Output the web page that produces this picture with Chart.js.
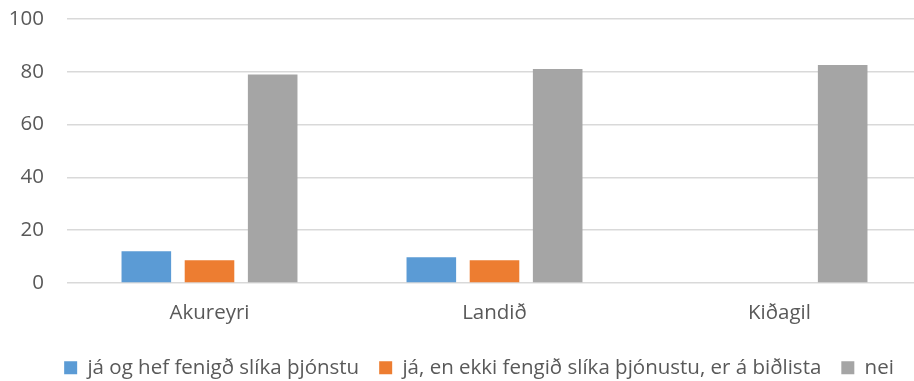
<!DOCTYPE html>
<html>
<head>
<meta charset="utf-8">
<script src="https://cdn.jsdelivr.net/npm/chart.js@4/dist/chart.umd.min.js"></script>
<style>
  html, body { margin: 0; padding: 0; background: #fff; overflow: hidden; }
  #wrap { width: 950px; height: 388px; }
</style>
</head>
<body>
<div id="wrap"><canvas id="svarChart" width="950" height="388"></canvas></div>
<script>
const stadir = ['Akureyri', 'Landið', 'Kiðagil'];
const jaFengid = [12, 9.8, 0];
const jaBidlisti = [8.6, 8.6, 0];
const nei = [79, 81.1, 82.6];
const yTicks = [0, 20, 40, 60, 80, 100];

const textColor = '#595959';
const gridColor = '#d9d9d9';
const clear = 'rgba(0,0,0,0)';
const font = { family: '"Open Sans", sans-serif', size: 20.5 };

const data = {
  labels: stadir,
  datasets: [
    { label: 'já og hef fenigð slíka þjónstu', data: jaFengid, backgroundColor: '#5b9bd5' },
    { label: 'já, en ekki fengið slíka þjónustu, er á biðlista', data: jaBidlisti, backgroundColor: '#ed7d31' },
    { label: 'nei', data: nei, backgroundColor: '#a5a5a5' }
  ]
};

const config = {
  type: 'bar',
  data: data,
  options: {
    responsive: false,
    animation: false,
    layout: { padding: { left: 8, top: 19, right: 0, bottom: 0 } },
    datasets: {
      bar: { categoryPercentage: 0.665, barPercentage: 0.785 }
    },
    scales: {
      x: {
        // invisible tick marks give the gap above the labels without padding the sides
        grid: { drawOnChartArea: false, color: clear, tickColor: clear, tickLength: 17.7 },
        border: { display: false },
        ticks: { color: textColor, font: font, padding: 0 },
        afterFit: (scale) => { scale.height = 54.5; }
      },
      y: {
        min: 0,
        max: 100,
        afterBuildTicks: (scale) => { scale.ticks = yTicks.map(v => ({ value: v })); },
        grid: { color: gridColor, lineWidth: 1.5, tickColor: clear, tickLength: 23 },
        border: { display: false },
        ticks: { color: textColor, font: font, padding: 0 },
        afterFit: (scale) => { scale.width = 59; }
      },
      // keeps the plot running past the right edge while the legend stays centred
      spare: {
        position: 'right',
        grid: { display: false },
        border: { display: false },
        ticks: { display: false },
        afterFit: (scale) => { scale.width = 28; }
      }
    },
    plugins: {
      legend: {
        position: 'bottom',
        labels: {
          color: textColor,
          font: font,
          boxWidth: 13,
          boxHeight: 13,
          padding: 20
        }
      },
      tooltip: { enabled: false }
    }
  }
};

new Chart(document.getElementById('svarChart'), config);
</script>
</body>
</html>
